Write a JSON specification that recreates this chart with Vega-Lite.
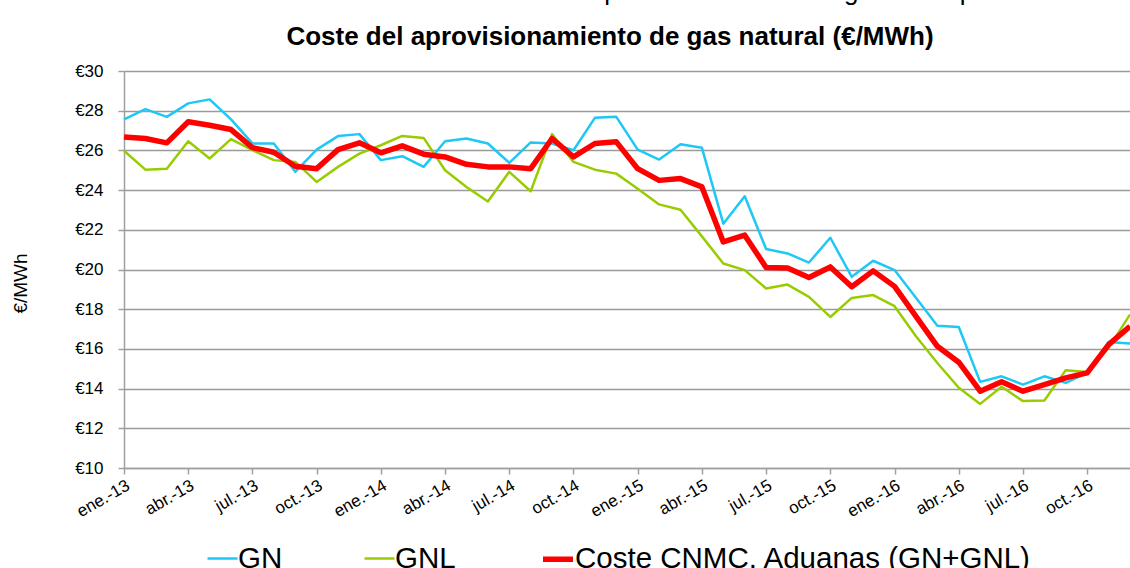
{
  "$schema": "https://vega.github.io/schema/vega-lite/v6.json",
  "width": 1006,
  "height": 397,
  "autosize": {"type": "none"},
  "padding": {"left": 124, "top": 71, "right": 0, "bottom": 100},
  "background": "white",
  "config": {
    "view": {"stroke": null},
    "font": "Liberation Sans"
  },
  "title": {
    "text": "Gráfico 6: Evolución del coste de aprovisionamiento de gas en España\u00a0\u00a0\u00a0\u00a0\u00a0\u00a0\u00a0\u00a0\u00a0\u00a0\u00a0\u00a0",
    "subtitle": "Coste del aprovisionamiento de gas natural (€/MWh)",
    "anchor": "middle",
    "frame": "group",
    "dx": -17,
    "offset": 12,
    "font": "Liberation Sans",
    "fontSize": 26,
    "fontWeight": "normal",
    "color": "#000000",
    "subtitleFont": "Liberation Sans",
    "subtitleFontSize": 26,
    "subtitleFontWeight": "bold",
    "subtitleColor": "#000000",
    "subtitlePadding": 19
  },
  "data": {
    "values": [
      {"mes": "ene.-13", "serie": "GN", "valor": 27.56},
      {"mes": "feb.-13", "serie": "GN", "valor": 28.08},
      {"mes": "mar.-13", "serie": "GN", "valor": 27.69},
      {"mes": "abr.-13", "serie": "GN", "valor": 28.37},
      {"mes": "may.-13", "serie": "GN", "valor": 28.57},
      {"mes": "jun.-13", "serie": "GN", "valor": 27.56},
      {"mes": "jul.-13", "serie": "GN", "valor": 26.35},
      {"mes": "ago.-13", "serie": "GN", "valor": 26.35},
      {"mes": "sep.-13", "serie": "GN", "valor": 24.92},
      {"mes": "oct.-13", "serie": "GN", "valor": 26.04},
      {"mes": "nov.-13", "serie": "GN", "valor": 26.72},
      {"mes": "dic.-13", "serie": "GN", "valor": 26.82},
      {"mes": "ene.-14", "serie": "GN", "valor": 25.51},
      {"mes": "feb.-14", "serie": "GN", "valor": 25.71},
      {"mes": "mar.-14", "serie": "GN", "valor": 25.17},
      {"mes": "abr.-14", "serie": "GN", "valor": 26.46},
      {"mes": "may.-14", "serie": "GN", "valor": 26.60},
      {"mes": "jun.-14", "serie": "GN", "valor": 26.35},
      {"mes": "jul.-14", "serie": "GN", "valor": 25.37},
      {"mes": "ago.-14", "serie": "GN", "valor": 26.40},
      {"mes": "sep.-14", "serie": "GN", "valor": 26.35},
      {"mes": "oct.-14", "serie": "GN", "valor": 26.01},
      {"mes": "nov.-14", "serie": "GN", "valor": 27.64},
      {"mes": "dic.-14", "serie": "GN", "valor": 27.69},
      {"mes": "ene.-15", "serie": "GN", "valor": 26.04},
      {"mes": "feb.-15", "serie": "GN", "valor": 25.54},
      {"mes": "mar.-15", "serie": "GN", "valor": 26.31},
      {"mes": "abr.-15", "serie": "GN", "valor": 26.13},
      {"mes": "may.-15", "serie": "GN", "valor": 22.31},
      {"mes": "jun.-15", "serie": "GN", "valor": 23.69},
      {"mes": "jul.-15", "serie": "GN", "valor": 21.03},
      {"mes": "ago.-15", "serie": "GN", "valor": 20.81},
      {"mes": "sep.-15", "serie": "GN", "valor": 20.35},
      {"mes": "oct.-15", "serie": "GN", "valor": 21.60},
      {"mes": "nov.-15", "serie": "GN", "valor": 19.63},
      {"mes": "dic.-15", "serie": "GN", "valor": 20.44},
      {"mes": "ene.-16", "serie": "GN", "valor": 19.97},
      {"mes": "feb.-16", "serie": "GN", "valor": 18.58},
      {"mes": "mar.-16", "serie": "GN", "valor": 17.17},
      {"mes": "abr.-16", "serie": "GN", "valor": 17.10},
      {"mes": "may.-16", "serie": "GN", "valor": 14.34},
      {"mes": "jun.-16", "serie": "GN", "valor": 14.62},
      {"mes": "jul.-16", "serie": "GN", "valor": 14.20},
      {"mes": "ago.-16", "serie": "GN", "valor": 14.62},
      {"mes": "sep.-16", "serie": "GN", "valor": 14.29},
      {"mes": "oct.-16", "serie": "GN", "valor": 14.79},
      {"mes": "nov.-16", "serie": "GN", "valor": 16.35},
      {"mes": "dic.-16", "serie": "GN", "valor": 16.27},

      {"mes": "ene.-13", "serie": "GNL", "valor": 25.98},
      {"mes": "feb.-13", "serie": "GNL", "valor": 25.03},
      {"mes": "mar.-13", "serie": "GNL", "valor": 25.08},
      {"mes": "abr.-13", "serie": "GNL", "valor": 26.46},
      {"mes": "may.-13", "serie": "GNL", "valor": 25.59},
      {"mes": "jun.-13", "serie": "GNL", "valor": 26.57},
      {"mes": "jul.-13", "serie": "GNL", "valor": 26.01},
      {"mes": "ago.-13", "serie": "GNL", "valor": 25.51},
      {"mes": "sep.-13", "serie": "GNL", "valor": 25.42},
      {"mes": "oct.-13", "serie": "GNL", "valor": 24.41},
      {"mes": "nov.-13", "serie": "GNL", "valor": 25.17},
      {"mes": "dic.-13", "serie": "GNL", "valor": 25.84},
      {"mes": "ene.-14", "serie": "GNL", "valor": 26.26},
      {"mes": "feb.-14", "serie": "GNL", "valor": 26.73},
      {"mes": "mar.-14", "serie": "GNL", "valor": 26.63},
      {"mes": "abr.-14", "serie": "GNL", "valor": 25.00},
      {"mes": "may.-14", "serie": "GNL", "valor": 24.16},
      {"mes": "jun.-14", "serie": "GNL", "valor": 23.43},
      {"mes": "jul.-14", "serie": "GNL", "valor": 24.92},
      {"mes": "ago.-14", "serie": "GNL", "valor": 23.94},
      {"mes": "sep.-14", "serie": "GNL", "valor": 26.82},
      {"mes": "oct.-14", "serie": "GNL", "valor": 25.42},
      {"mes": "nov.-14", "serie": "GNL", "valor": 25.03},
      {"mes": "dic.-14", "serie": "GNL", "valor": 24.83},
      {"mes": "ene.-15", "serie": "GNL", "valor": 24.07},
      {"mes": "feb.-15", "serie": "GNL", "valor": 23.28},
      {"mes": "mar.-15", "serie": "GNL", "valor": 23.01},
      {"mes": "abr.-15", "serie": "GNL", "valor": 21.67},
      {"mes": "may.-15", "serie": "GNL", "valor": 20.30},
      {"mes": "jun.-15", "serie": "GNL", "valor": 19.97},
      {"mes": "jul.-15", "serie": "GNL", "valor": 19.04},
      {"mes": "ago.-15", "serie": "GNL", "valor": 19.24},
      {"mes": "sep.-15", "serie": "GNL", "valor": 18.62},
      {"mes": "oct.-15", "serie": "GNL", "valor": 17.61},
      {"mes": "nov.-15", "serie": "GNL", "valor": 18.57},
      {"mes": "dic.-15", "serie": "GNL", "valor": 18.71},
      {"mes": "ene.-16", "serie": "GNL", "valor": 18.15},
      {"mes": "feb.-16", "serie": "GNL", "valor": 16.64},
      {"mes": "mar.-16", "serie": "GNL", "valor": 15.29},
      {"mes": "abr.-16", "serie": "GNL", "valor": 14.04},
      {"mes": "may.-16", "serie": "GNL", "valor": 13.23},
      {"mes": "jun.-16", "serie": "GNL", "valor": 14.09},
      {"mes": "jul.-16", "serie": "GNL", "valor": 13.37},
      {"mes": "ago.-16", "serie": "GNL", "valor": 13.40},
      {"mes": "sep.-16", "serie": "GNL", "valor": 14.93},
      {"mes": "oct.-16", "serie": "GNL", "valor": 14.84},
      {"mes": "nov.-16", "serie": "GNL", "valor": 16.05},
      {"mes": "dic.-16", "serie": "GNL", "valor": 17.73},

      {"mes": "ene.-13", "serie": "Coste CNMC. Aduanas (GN+GNL)", "valor": 26.68},
      {"mes": "feb.-13", "serie": "Coste CNMC. Aduanas (GN+GNL)", "valor": 26.60},
      {"mes": "mar.-13", "serie": "Coste CNMC. Aduanas (GN+GNL)", "valor": 26.38},
      {"mes": "abr.-13", "serie": "Coste CNMC. Aduanas (GN+GNL)", "valor": 27.44},
      {"mes": "may.-13", "serie": "Coste CNMC. Aduanas (GN+GNL)", "valor": 27.27},
      {"mes": "jun.-13", "serie": "Coste CNMC. Aduanas (GN+GNL)", "valor": 27.05},
      {"mes": "jul.-13", "serie": "Coste CNMC. Aduanas (GN+GNL)", "valor": 26.14},
      {"mes": "ago.-13", "serie": "Coste CNMC. Aduanas (GN+GNL)", "valor": 25.91},
      {"mes": "sep.-13", "serie": "Coste CNMC. Aduanas (GN+GNL)", "valor": 25.20},
      {"mes": "oct.-13", "serie": "Coste CNMC. Aduanas (GN+GNL)", "valor": 25.08},
      {"mes": "nov.-13", "serie": "Coste CNMC. Aduanas (GN+GNL)", "valor": 26.04},
      {"mes": "dic.-13", "serie": "Coste CNMC. Aduanas (GN+GNL)", "valor": 26.38},
      {"mes": "ene.-14", "serie": "Coste CNMC. Aduanas (GN+GNL)", "valor": 25.88},
      {"mes": "feb.-14", "serie": "Coste CNMC. Aduanas (GN+GNL)", "valor": 26.23},
      {"mes": "mar.-14", "serie": "Coste CNMC. Aduanas (GN+GNL)", "valor": 25.81},
      {"mes": "abr.-14", "serie": "Coste CNMC. Aduanas (GN+GNL)", "valor": 25.67},
      {"mes": "may.-14", "serie": "Coste CNMC. Aduanas (GN+GNL)", "valor": 25.30},
      {"mes": "jun.-14", "serie": "Coste CNMC. Aduanas (GN+GNL)", "valor": 25.17},
      {"mes": "jul.-14", "serie": "Coste CNMC. Aduanas (GN+GNL)", "valor": 25.17},
      {"mes": "ago.-14", "serie": "Coste CNMC. Aduanas (GN+GNL)", "valor": 25.08},
      {"mes": "sep.-14", "serie": "Coste CNMC. Aduanas (GN+GNL)", "valor": 26.60},
      {"mes": "oct.-14", "serie": "Coste CNMC. Aduanas (GN+GNL)", "valor": 25.67},
      {"mes": "nov.-14", "serie": "Coste CNMC. Aduanas (GN+GNL)", "valor": 26.35},
      {"mes": "dic.-14", "serie": "Coste CNMC. Aduanas (GN+GNL)", "valor": 26.43},
      {"mes": "ene.-15", "serie": "Coste CNMC. Aduanas (GN+GNL)", "valor": 25.08},
      {"mes": "feb.-15", "serie": "Coste CNMC. Aduanas (GN+GNL)", "valor": 24.49},
      {"mes": "mar.-15", "serie": "Coste CNMC. Aduanas (GN+GNL)", "valor": 24.58},
      {"mes": "abr.-15", "serie": "Coste CNMC. Aduanas (GN+GNL)", "valor": 24.16},
      {"mes": "may.-15", "serie": "Coste CNMC. Aduanas (GN+GNL)", "valor": 21.39},
      {"mes": "jun.-15", "serie": "Coste CNMC. Aduanas (GN+GNL)", "valor": 21.73},
      {"mes": "jul.-15", "serie": "Coste CNMC. Aduanas (GN+GNL)", "valor": 20.10},
      {"mes": "ago.-15", "serie": "Coste CNMC. Aduanas (GN+GNL)", "valor": 20.08},
      {"mes": "sep.-15", "serie": "Coste CNMC. Aduanas (GN+GNL)", "valor": 19.60},
      {"mes": "oct.-15", "serie": "Coste CNMC. Aduanas (GN+GNL)", "valor": 20.13},
      {"mes": "nov.-15", "serie": "Coste CNMC. Aduanas (GN+GNL)", "valor": 19.13},
      {"mes": "dic.-15", "serie": "Coste CNMC. Aduanas (GN+GNL)", "valor": 19.93},
      {"mes": "ene.-16", "serie": "Coste CNMC. Aduanas (GN+GNL)", "valor": 19.15},
      {"mes": "feb.-16", "serie": "Coste CNMC. Aduanas (GN+GNL)", "valor": 17.64},
      {"mes": "mar.-16", "serie": "Coste CNMC. Aduanas (GN+GNL)", "valor": 16.13},
      {"mes": "abr.-16", "serie": "Coste CNMC. Aduanas (GN+GNL)", "valor": 15.33},
      {"mes": "may.-16", "serie": "Coste CNMC. Aduanas (GN+GNL)", "valor": 13.87},
      {"mes": "jun.-16", "serie": "Coste CNMC. Aduanas (GN+GNL)", "valor": 14.34},
      {"mes": "jul.-16", "serie": "Coste CNMC. Aduanas (GN+GNL)", "valor": 13.87},
      {"mes": "ago.-16", "serie": "Coste CNMC. Aduanas (GN+GNL)", "valor": 14.20},
      {"mes": "sep.-16", "serie": "Coste CNMC. Aduanas (GN+GNL)", "valor": 14.54},
      {"mes": "oct.-16", "serie": "Coste CNMC. Aduanas (GN+GNL)", "valor": 14.79},
      {"mes": "nov.-16", "serie": "Coste CNMC. Aduanas (GN+GNL)", "valor": 16.22},
      {"mes": "dic.-16", "serie": "Coste CNMC. Aduanas (GN+GNL)", "valor": 17.14}
    ]
  },
  "mark": {"type": "line", "strokeJoin": "round", "strokeCap": "butt", "clip": false},
  "encoding": {
    "x": {
      "field": "mes",
      "type": "ordinal",
      "sort": null,
      "scale": {"type": "point", "padding": 0},
      "axis": {
        "title": null,
        "labelExpr": "indexof(['ene', 'abr', 'jul', 'oct'], slice(datum.value, 0, 3)) >= 0 ? datum.value : ''",
        "tickOpacity": {
          "condition": {"test": "indexof(['ene', 'abr', 'jul', 'oct'], slice(datum.value, 0, 3)) >= 0", "value": 1},
          "value": 0
        },
        "labelAngle": -30,
        "labelAlign": "right",
        "labelBaseline": "top",
        "labelFont": "Liberation Sans",
        "labelFontSize": 17,
        "labelColor": "#000000",
        "labelPadding": 3,
        "labelOverlap": false,
        "labelFlush": false,
        "labelBound": false,
        "domainColor": "#A0A0A0",
        "domainWidth": 1.5,
        "tickColor": "#A0A0A0",
        "tickSize": 6,
        "tickWidth": 1.5,
        "grid": false
      }
    },
    "y": {
      "field": "valor",
      "type": "quantitative",
      "scale": {"domain": [10, 30], "nice": false, "zero": false},
      "axis": {
        "title": "€/MWh",
        "titleFont": "Liberation Sans",
        "titleFontSize": 19,
        "titleFontWeight": "normal",
        "titleColor": "#000000",
        "titleAngle": 270,
        "titleAlign": "center",
        "titleBaseline": "middle",
        "titleX": -104,
        "titleY": 212,
        "values": [10, 12, 14, 16, 18, 20, 22, 24, 26, 28, 30],
        "labelExpr": "'€' + datum.value",
        "labelFont": "Liberation Sans",
        "labelFontSize": 17,
        "labelColor": "#000000",
        "labelPadding": 15,
        "domainColor": "#A0A0A0",
        "domainWidth": 1.5,
        "tickColor": "#A0A0A0",
        "tickSize": 6,
        "tickWidth": 1.5,
        "grid": true,
        "gridColor": "#9A9A9A",
        "gridWidth": 1.5
      }
    },
    "color": {
      "field": "serie",
      "type": "nominal",
      "scale": {
        "domain": ["GN", "GNL", "Coste CNMC. Aduanas (GN+GNL)"],
        "range": ["#1EC8F5", "#99CC00", "#FF0000"]
      },
      "legend": {
        "title": null,
        "orient": "none",
        "direction": "horizontal",
        "legendX": 82,
        "legendY": 470,
        "symbolType": "stroke",
        "symbolSize": 900,
        "labelFont": "Liberation Sans",
        "labelFontSize": 29.5,
        "labelColor": "#000000",
        "labelOffset": -1,
        "columnPadding": 76,
        "labelLimit": 0
      }
    },
    "strokeWidth": {
      "field": "serie",
      "type": "nominal",
      "scale": {
        "type": "ordinal",
        "domain": ["GN", "GNL", "Coste CNMC. Aduanas (GN+GNL)"],
        "range": [2.5, 2.5, 5.5]
      },
      "legend": {
        "title": null,
        "orient": "none",
        "direction": "horizontal",
        "legendX": 82,
        "legendY": 470,
        "symbolType": "stroke",
        "symbolSize": 900,
        "labelFont": "Liberation Sans",
        "labelFontSize": 29.5,
        "labelColor": "#000000",
        "labelOffset": -1,
        "columnPadding": 76,
        "labelLimit": 0
      }
    }
  }
}
